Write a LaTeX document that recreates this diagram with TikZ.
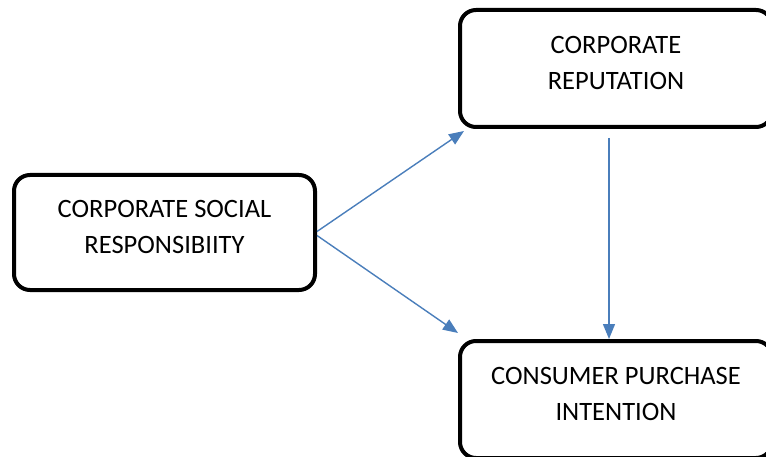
\documentclass[tikz,border=0pt]{standalone}
\usepackage{fontspec}
\setmainfont{Carlito}
\usetikzlibrary{arrows.meta}

\begin{document}
\begin{tikzpicture}[x=1pt, y=-1pt,
  every node/.style={rectangle, draw, line width=4pt, rounded corners=16pt, align=center, text depth=12pt, font=\fontsize{26.5}{36}\selectfont},
  link/.style={draw={rgb,255:red,74;green,126;blue,187}, line width=1.4pt, -{Triangle[length=15pt,width=12pt]}}]

\useasboundingbox (0,0) rectangle (766,457);

% Caselle
\node[minimum width=301pt, minimum height=115pt] (csr) at (164.5,232.5) {CORPORATE SOCIAL\\RESPONSIBIITY};
\node[minimum width=312pt, minimum height=117pt] (rep) at (616,68.5) {CORPORATE\\REPUTATION};
\node[minimum width=312pt, minimum height=117pt] (cpi) at (616,399.5) {CONSUMER PURCHASE\\INTENTION};

% Frecce
\draw[link] ([yshift=1pt]csr.east) -- ([xshift=6pt,yshift=-2pt]rep.south west);
\draw[link] ([yshift=-3pt]csr.east) -- ([yshift=6pt]cpi.north west);
\draw[link] ([xshift=-7pt,yshift=-9pt]rep.south) -- ([xshift=-7pt]cpi.north);

\end{tikzpicture}
\end{document}
